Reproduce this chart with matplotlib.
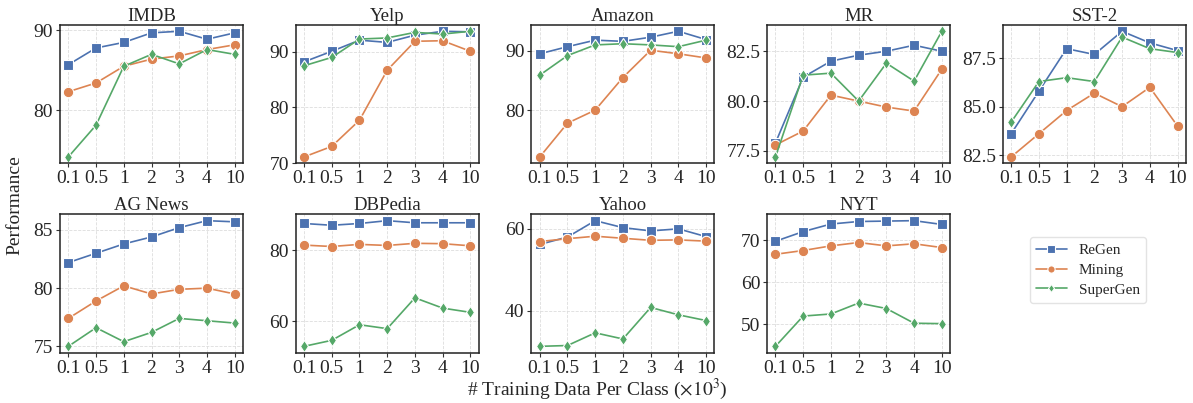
import matplotlib.pyplot as plt
import seaborn as sns

sns.set_theme(style="whitegrid")
plt.rcParams["font.family"] = ["Liberation Serif", "DejaVu Serif"]
plt.rcParams["mathtext.fontset"] = "stix"

x_labels = ["0.1", "0.5", "1", "2", "3", "4", "10"]
datasets = ["IMDB", "Yelp", "Amazon", "MR", "SST-2",
            "AG News", "DBPedia", "Yahoo", "NYT"]

regen = [
    [85.7, 87.8, 88.5, 89.7, 89.9, 88.9, 89.7],
    [88.2, 90.1, 92.1, 91.7, 93.0, 93.7, 93.6],
    [89.5, 90.7, 91.8, 91.6, 92.3, 93.3, 91.9],
    [77.9, 81.2, 82.0, 82.3, 82.5, 82.8, 82.5],
    [83.6, 85.8, 88.0, 87.7, 88.9, 88.3, 87.9],
    [82.2, 83.0, 83.8, 84.4, 85.2, 85.8, 85.7],
    [87.6, 87.1, 87.6, 88.4, 87.8, 87.8, 87.8],
    [56.2, 58.0, 62.0, 60.3, 59.5, 60.0, 58.1],
    [69.8, 72.1, 73.9, 74.5, 74.6, 74.7, 73.8],
]
mining = [
    [82.3, 83.4, 85.5, 86.4, 86.8, 87.6, 88.2],
    [71.1, 73.0, 77.7, 86.7, 91.9, 92.0, 90.1],
    [72.1, 77.8, 80.0, 85.5, 90.1, 89.5, 88.8],
    [77.8, 78.5, 80.3, 80.0, 79.7, 79.5, 81.6],
    [82.4, 83.6, 84.8, 85.7, 85.0, 86.0, 84.0],
    [77.4, 78.9, 80.2, 79.5, 79.9, 80.0, 79.5],
    [81.5, 81.1, 81.7, 81.4, 82.0, 81.9, 81.3],
    [56.9, 57.6, 58.2, 57.7, 57.2, 57.3, 57.0],
    [66.7, 67.6, 68.7, 69.5, 68.7, 69.2, 68.3],
]
supergen = [
    [74.1, 78.1, 85.5, 87.0, 85.8, 87.6, 87.0],
    [87.5, 89.0, 92.3, 92.5, 93.5, 93.2, 93.7],
    [85.9, 89.2, 91.0, 91.2, 91.0, 90.7, 91.8],
    [77.2, 81.3, 81.4, 80.0, 81.9, 81.0, 83.5],
    [84.2, 86.3, 86.5, 86.3, 88.6, 88.0, 87.8],
    [75.0, 76.6, 75.4, 76.2, 77.4, 77.2, 77.0],
    [52.9, 54.6, 59.0, 57.9, 66.6, 63.7, 62.5],
    [31.3, 31.5, 34.6, 33.1, 40.8, 39.0, 37.6],
    [44.8, 52.0, 52.5, 55.1, 53.8, 50.3, 50.2],
]
yticks = [
    [80, 90], [70, 80, 90], [80, 90], [77.5, 80.0, 82.5], [82.5, 85.0, 87.5],
    [75, 80, 85], [60, 80], [40, 60], [50, 60, 70],
]

series = [("ReGen", regen, "s", "#4C72B0"),
          ("Mining", mining, "o", "#DD8452"),
          ("SuperGen", supergen, "d", "#55A868")]

fig, axes = plt.subplots(2, 5, figsize=(11.93, 4.03), dpi=100)
fig.subplots_adjust(left=0.0503, right=0.994, top=0.938, bottom=0.125,
                    wspace=0.288, hspace=0.37)

xs = list(range(len(x_labels)))
for i, name in enumerate(datasets):
    ax = axes.flat[i]
    for label, vals, mk, col in series:
        ax.plot(xs, vals[i], marker=mk, color=col, label=label, lw=1.2,
                markersize=7.5 if mk != "d" else 6.5,
                markeredgecolor="white", markeredgewidth=0.8)
    ax.set_title(name, fontsize=13.5, pad=3)
    ax.set_xticks(xs)
    ax.set_xticklabels(x_labels)
    ax.set_yticks(yticks[i])
    if i == 3 or i == 4:
        ax.set_yticklabels([f"{t:.1f}" for t in yticks[i]])
    ax.tick_params(labelsize=14, length=3, width=0.8, pad=2,
                   left=True, bottom=True, color="#333333")
    ax.grid(True, ls="--", lw=0.6, color="#dddddd")
    for s in ax.spines.values():
        s.set_color("#222222")
        s.set_linewidth(1.1)

axes.flat[9].axis("off")
handles, labels = axes.flat[0].get_legend_handles_labels()
fig.legend(handles, labels, loc="center", bbox_to_anchor=(1088 / 1193, 1 - 270 / 403),
           fontsize=11, markerscale=0.7, handlelength=2.0, frameon=True,
           edgecolor="#dddddd", labelspacing=0.4)

fig.text(15 / 1193, 1 - 205 / 403, "Performance", rotation=90,
         ha="center", va="center", fontsize=14)
fig.text(597 / 1193, 1 - 389 / 403, r"# Training Data Per Class ($\times 10^3$)",
         ha="center", va="center", fontsize=14)

fig.savefig("out.png", dpi=100)
